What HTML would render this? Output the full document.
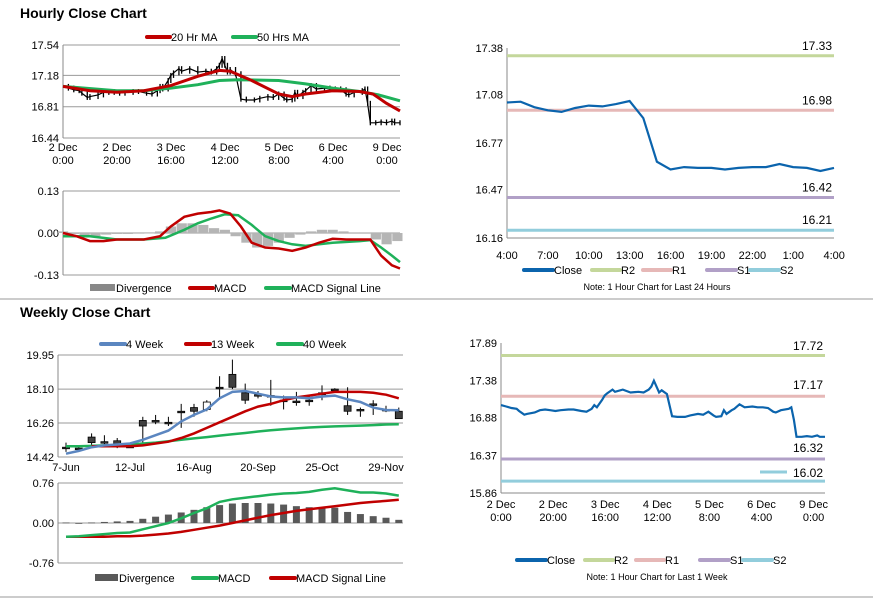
<!DOCTYPE html>
<html><head><meta charset="utf-8"><style>
body{margin:0;background:#fff;width:873px;height:601px;overflow:hidden}
svg{font-family:"Liberation Sans",sans-serif;display:block}
</style></head><body>
<svg id="s" width="873" height="601" viewBox="0 0 873 601">
<text x="20" y="18" font-size="14" font-weight="bold">Hourly Close Chart</text>
<text x="20" y="317" font-size="14" font-weight="bold">Weekly Close Chart</text>
<line x1="0" y1="299" x2="873" y2="299" stroke="#999"/>
<line x1="0" y1="597" x2="873" y2="597" stroke="#999"/>
</svg>
<script>
// ---- data ----
const weekHours=[0,2,4,6,7,9,10,13,15,17,19,21,23,26,28,31,33,35,36,37,39,40,41,43,44,47,50,53,55,57,58,59,60,61,62,64,66,68,71,73,76,78,80,82,83,85,86,87,89,90,92,94,97,99,101,103,105,106,108,111,112,113,114,116,118,120,122,123,125];
const weekClose=[17.05,17.03,17.01,17.0,16.97,16.92,16.93,16.95,16.98,16.99,16.98,16.97,16.98,16.99,16.99,16.97,16.96,17.0,17.05,17.02,17.12,17.18,17.21,17.26,17.23,17.26,17.22,17.23,17.22,17.26,17.30,17.38,17.30,17.22,17.25,17.2,16.90,16.89,16.89,16.91,16.93,16.92,16.96,16.91,16.89,16.90,16.98,16.93,16.98,17.0,17.06,17.02,17.03,17.02,17.02,17.01,16.96,16.95,16.98,17.0,17.02,16.85,16.62,16.62,16.63,16.62,16.64,16.62,16.62];
const ma20Hours=[0,10,20,30,40,50,58,62,70,80,85,90,100,110,115,120,125];
const ma20=[17.05,17.0,16.98,17.0,17.06,17.17,17.24,17.23,17.12,16.96,16.93,16.96,17.0,16.99,16.96,16.85,16.76];
const ma50Hours=[0,20,30,40,50,58,65,80,90,100,110,117,125];
const ma50=[17.05,17.0,17.0,17.03,17.07,17.12,17.13,17.12,17.08,17.03,16.99,16.95,16.88];
const macdHours=[0,5,10,15,20,30,36,40,45,50,55,58,62,66,70,75,80,85,90,95,100,105,110,114,118,122,125];
const macdH=[0,-0.01,-0.025,-0.025,-0.02,-0.02,-0.01,0.02,0.05,0.06,0.065,0.07,0.06,0.02,-0.03,-0.045,-0.048,-0.055,-0.045,-0.03,-0.018,-0.02,-0.02,-0.02,-0.07,-0.1,-0.11];
const sigHours=[0,10,20,30,38,45,50,55,60,65,70,75,80,85,90,95,100,110,114,118,122,125];
const sigH=[-0.01,-0.01,-0.02,-0.02,-0.015,0.01,0.03,0.045,0.058,0.055,0.025,-0.01,-0.025,-0.035,-0.04,-0.035,-0.03,-0.025,-0.022,-0.045,-0.07,-0.09];
const divHours=[0,4,8,12,16,20,24,28,32,36,40,44,48,52,56,60,64,68,72,76,80,84,88,92,96,100,104,108,112,116,120,124];
const divH=[0.005,-0.003,-0.01,-0.01,-0.005,-0.003,-0.003,-0.002,0,0.005,0.02,0.03,0.03,0.025,0.015,0.01,-0.01,-0.03,-0.045,-0.04,-0.03,-0.015,-0.005,0.005,0.01,0.01,0.005,0.002,0.002,-0.02,-0.035,-0.025];
const hourTicks=["2 Dec|0:00","2 Dec|20:00","3 Dec|16:00","4 Dec|12:00","5 Dec|8:00","6 Dec|4:00","9 Dec|0:00"];
const dayClose=[17.03,17.035,17.0,16.98,16.97,16.995,17.01,17.005,17.02,17.04,16.93,16.65,16.60,16.615,16.61,16.61,16.60,16.61,16.615,16.615,16.635,16.615,16.61,16.59,16.61];
const dayTicks=["4:00","7:00","10:00","13:00","16:00","19:00","22:00","1:00","4:00"];
const dayLevels=[17.33,16.98,16.42,16.21];
const weekLevels=[17.72,17.17,16.32,16.02];
const wOpen=[14.95,14.9,15.5,15.25,15.3,15.0,16.4,16.4,16.3,16.9,17.1,17.0,18.2,18.9,17.9,17.8,17.75,17.5,17.45,17.5,17.8,18.1,17.2,17.0,17.3,17.0,16.9];
const wClose=[14.95,14.9,15.2,15.25,15.1,15.0,16.1,16.4,16.3,16.9,16.9,17.4,18.2,18.2,17.5,17.8,17.75,17.5,17.45,17.5,17.9,18.1,16.9,17.0,17.3,17.0,16.5];
const wHigh=[15.2,15.05,15.7,15.6,15.45,15.1,16.6,16.7,16.6,17.3,17.3,17.5,18.8,19.7,18.4,18.0,18.6,17.75,17.95,17.7,18.3,18.15,18.2,17.1,17.5,17.2,17.1];
const wLow=[14.7,14.75,14.9,15.0,14.9,14.95,15.0,16.2,16.1,16.0,16.6,16.9,17.6,18.1,17.3,17.6,17.2,17.0,17.2,17.2,17.5,17.9,16.7,16.6,16.7,16.85,16.5];
const ma4=[14.6,14.75,14.95,15.05,15.1,15.15,15.35,15.6,15.85,16.35,16.7,17.0,17.6,17.95,18.0,17.85,17.7,17.65,17.65,17.6,17.7,17.75,17.55,17.4,17.1,16.97,16.95];
const ma13=[null,null,15.0,15.0,15.0,15.0,15.05,15.15,15.25,15.45,15.7,16.0,16.3,16.6,16.9,17.15,17.3,17.5,17.65,17.75,17.85,17.95,17.95,17.95,17.9,17.8,17.6];
const ma40=[15.0,15.0,15.02,15.05,15.07,15.1,15.15,15.2,15.27,15.35,15.43,15.5,15.58,15.65,15.72,15.8,15.87,15.92,15.97,16.02,16.05,16.08,16.1,16.12,16.15,16.18,16.2];
const wMacd=[-0.26,-0.25,-0.23,-0.21,-0.19,-0.18,-0.12,-0.06,0.0,0.09,0.19,0.28,0.40,0.45,0.48,0.51,0.54,0.56,0.57,0.59,0.63,0.66,0.62,0.58,0.58,0.56,0.52];
const wSig=[-0.26,-0.26,-0.26,-0.26,-0.25,-0.25,-0.24,-0.22,-0.2,-0.17,-0.13,-0.09,-0.05,0.0,0.05,0.10,0.15,0.19,0.23,0.26,0.29,0.32,0.35,0.38,0.40,0.42,0.44];
const wDiv=[0.01,0.0,0.01,0.02,0.03,0.04,0.08,0.12,0.16,0.20,0.25,0.30,0.34,0.37,0.38,0.38,0.37,0.35,0.32,0.30,0.30,0.29,0.21,0.17,0.13,0.10,0.06];
const weekTicks=["7-Jun","12-Jul","16-Aug","20-Sep","25-Oct","29-Nov"];

const svg=document.getElementById('s');
const NS='http://www.w3.org/2000/svg';
function mk(tag,a,txt){const e=document.createElementNS(NS,tag);for(const k in a)e.setAttribute(k,a[k]);if(txt!==undefined)e.textContent=txt;svg.appendChild(e);return e;}
function lin(v0,v1,p0,p1){return v=>p0+(v-v0)*(p1-p0)/(v1-v0);}
function pathOf(xs,ys,fx,fy){let d='';xs.forEach((x,i)=>{if(ys[i]===null)return;d+=(d?'L':'M')+fx(x).toFixed(1)+','+fy(ys[i]).toFixed(1);});return d;}
function yTicks(vals,fy,x0,x1,grid,name){vals.forEach(v=>{
 if(grid){const g=mk('line',{x1:x0,x2:x1,y1:fy(v),y2:fy(v),stroke:'#9a9a9a','stroke-width':1});
 
 }
 const t=mk('text',{x:x0-4,y:fy(v)+4,'font-size':11,'text-anchor':'end'},v.toFixed(2));
 
 });}
function axisY(x,y0,y1,name){const a=mk('line',{x1:x,x2:x,y1:y0,y2:y1,stroke:'#888'});
 
 }
function legend(items,y,name){items.forEach(it=>{
 if(it.box){const b=mk('rect',{x:it.x,y:y-4,width:it.w,height:7,fill:it.c});
 
 }
 else{const l=mk('line',{x1:it.x,x2:it.x+it.w,y1:y,y2:y,stroke:it.c,'stroke-width':4,'stroke-linecap':'round'});
 
 }
 const t=mk('text',{x:it.x+it.w+1,y:y+4,'font-size':11},it.t);
 
 });}
function xTwo(labels,fx,y,name){labels.forEach((l,i)=>{const p=l.split('|');const x=fx(i);
 p.forEach((s,j)=>{const t=mk('text',{x:x,y:y+j*13,'font-size':11,'text-anchor':'middle'},s);
 
 });});}

// ---- hourly candle chart ----
(function(){
 const fx=lin(0,125,63,400), fy=lin(16.44,17.54,138,45);
 yTicks([17.54,17.18,16.81,16.44],fy,63,400,true,'hourly-price');
 axisY(63,45,138,'hourly-price-y-axis');
 xTwo(hourTicks,i=>63+i*54,151,'hourly-price');
 const cl=mk('path',{d:pathOf(weekHours,weekClose,fx,fy),fill:'none',stroke:'#000','stroke-width':1.2});
 
 
 weekHours.forEach((h,i)=>{if(i===0)return;const x=fx(h),y0=fy(weekClose[i-1]),y1=fy(weekClose[i]);
  const c=mk('line',{x1:x,x2:x,y1:Math.min(y0,y1)-2.5,y2:Math.max(y0,y1)+2.5,stroke:'#000','stroke-width':1.3});
  
  });
 const g=mk('path',{d:pathOf(ma50Hours,ma50,fx,fy),fill:'none',stroke:'#1fb15a','stroke-width':3});
 
 
 const r=mk('path',{d:pathOf(ma20Hours,ma20,fx,fy),fill:'none',stroke:'#c00000','stroke-width':3});
 
 
 legend([{x:147,w:23,c:'#c00000',t:'20 Hr MA'},{x:233,w:23,c:'#1fb15a',t:'50 Hrs MA'}],37,'hourly-price-legend');
})();
// ---- hourly MACD ----
(function(){
 const fx=lin(0,125,63,400), fy=lin(-0.13,0.13,275,191);
 yTicks([0.13,0.0,-0.13],fy,63,400,true,'hourly-macd');
 axisY(63,191,275,'hourly-macd-y-axis');
 divHours.forEach((h,i)=>{const y=fy(divH[i]),z=fy(0);
  const b=mk('rect',{x:fx(h)-5,y:Math.min(y,z),width:10.2,height:Math.max(0.5,Math.abs(y-z)),fill:'#b5b5b5'});
  
  });
 const g=mk('path',{d:pathOf(sigHours,sigH,fx,fy),fill:'none',stroke:'#1fb15a','stroke-width':2.5});
 
 
 const r=mk('path',{d:pathOf(macdHours,macdH,fx,fy),fill:'none',stroke:'#c00000','stroke-width':2.5});
 
 
 legend([{x:90,w:25,c:'#888',t:'Divergence',box:1},{x:190,w:23,c:'#c00000',t:'MACD'},{x:266,w:24,c:'#1fb15a',t:'MACD Signal Line'}],288,'hourly-macd-legend');
})();
// ---- level chart helper ----
function levelChart(o){
 const fy=lin(o.vmin,o.vmax,o.y1,o.y0);
 yTicks(o.ticks,fy,o.x0,o.x1,false,o.name);
 axisY(o.x0,o.y0,o.y1,o.name+'-y-axis');
 const xa=mk('line',{x1:o.x0,x2:o.x1,y1:o.y1,y2:o.y1,stroke:'#888'});
 
 
 const cols=['#c4d79b','#e6b8b7','#b1a0c7','#92cddc'];
 o.levels.forEach((v,i)=>{const y=fy(v);
  const l=mk('line',{x1:o.x0,x2:o.x1,y1:y,y2:y,stroke:cols[i],'stroke-width':3});
  
  
  const ly=o.labelY?o.labelY[i]:y-6;
  const t=mk('text',{x:o.x1-2,y:ly,'font-size':12,'text-anchor':'end'},v.toFixed(2));
  
  });
 const c=mk('path',{d:pathOf(o.xs,o.vals,o.fx,fy),fill:'none',stroke:'#0b64ad','stroke-width':2.2});
 
 
 const lx=o.lx, ly=o.ly;
 legend([{x:lx,w:29,c:'#0b64ad',t:'Close'},{x:lx+68,w:28,c:cols[0],t:'R2'},{x:lx+119,w:28,c:cols[1],t:'R1'},{x:lx+183,w:29,c:cols[2],t:'S1'},{x:lx+226,w:29,c:cols[3],t:'S2'}],ly,o.name+'-legend');
 const n=mk('text',{x:o.noteX,y:ly+20,'font-size':9,'text-anchor':'middle'},o.note);
 
 
}
levelChart({name:'daily-levels',x0:507,x1:834,y0:48,y1:238,vmin:16.16,vmax:17.38,ticks:[17.38,17.08,16.77,16.47,16.16],
 levels:dayLevels,xs:dayClose.map((_,i)=>i),vals:dayClose,fx:lin(0,24,507,834),lx:524,ly:270,noteX:657,note:'Note: 1 Hour Chart for Last 24 Hours'});
dayTicks.forEach((s,i)=>{const t=mk('text',{x:507+i*40.9,y:259,'font-size':11,'text-anchor':'middle'},s);
 
 });
levelChart({name:'weekly-levels',x0:501,x1:825,y0:343,y1:493,vmin:15.86,vmax:17.89,ticks:[17.89,17.38,16.88,16.37,15.86],
 levels:weekLevels,labelY:[350,389,452,477],xs:weekHours,vals:weekClose,fx:lin(0,125,501,825),lx:517,ly:560,noteX:657,note:'Note: 1 Hour Chart for Last 1 Week'});
(function(){const l=mk('line',{x1:760,x2:787,y1:472,y2:472,stroke:'#92cddc','stroke-width':3});
 
 })();
xTwo(hourTicks,i=>501+i*52.1,508,'weekly-levels');
// ---- weekly candles ----
(function(){
 const fx=i=>66+i*12.8, fy=lin(14.42,19.95,457,355);
 yTicks([19.95,18.10,16.26,14.42],fy,58,403,true,'weekly-price');
 axisY(58,355,457,'weekly-price-y-axis');
 weekTicks.forEach((s,i)=>{const t=mk('text',{x:fx(i*5),y:471,'font-size':11,'text-anchor':'middle'},s);
  
  });
 wOpen.forEach((o,i)=>{const x=fx(i);
  const w=mk('line',{x1:x,x2:x,y1:fy(wHigh[i]),y2:fy(wLow[i]),stroke:'#000'});
  
  
  const top=fy(Math.max(o,wClose[i])),bot=fy(Math.min(o,wClose[i]));
  const b=mk('rect',{x:x-3.5,y:top,width:7,height:Math.max(1.5,bot-top),fill:wClose[i]>o?'#fff':'#404040',stroke:'#000','stroke-width':0.8});
  
  });
 const idx=wOpen.map((_,i)=>i);
 [[ma40,'#1fb15a','ma40-line'],[ma13,'#c00000','ma13-line'],[ma4,'#5b86c0','ma4-line']].forEach(s=>{
  const p=mk('path',{d:pathOf(idx,s[0],fx,fy),fill:'none',stroke:s[1],'stroke-width':2.5});
  
  });
 legend([{x:101,w:24,c:'#5b86c0',t:'4 Week'},{x:186,w:24,c:'#c00000',t:'13 Week'},{x:278,w:24,c:'#1fb15a',t:'40 Week'}],344,'weekly-price-legend');
})();
// ---- weekly MACD ----
(function(){
 const fx=i=>66+i*12.8, fy=lin(-0.76,0.76,563,483);
 yTicks([0.76,0.0,-0.76],fy,58,403,true,'weekly-macd');
 axisY(58,483,563,'weekly-macd-y-axis');
 wDiv.forEach((v,i)=>{const y=fy(v),z=fy(0);
  const b=mk('rect',{x:fx(i)-3.5,y:Math.min(y,z),width:7,height:Math.max(0.8,Math.abs(z-y)),fill:'#595959'});
  
  });
 const idx=wDiv.map((_,i)=>i);
 const r=mk('path',{d:pathOf(idx,wSig,fx,fy),fill:'none',stroke:'#c00000','stroke-width':2.5});
 
 
 const g=mk('path',{d:pathOf(idx,wMacd,fx,fy),fill:'none',stroke:'#1fb15a','stroke-width':2.5});
 
 
 legend([{x:95,w:23,c:'#595959',t:'Divergence',box:1},{x:193,w:24,c:'#1fb15a',t:'MACD'},{x:271,w:24,c:'#c00000',t:'MACD Signal Line'}],578,'weekly-macd-legend');
})();
</script>
</body></html>
